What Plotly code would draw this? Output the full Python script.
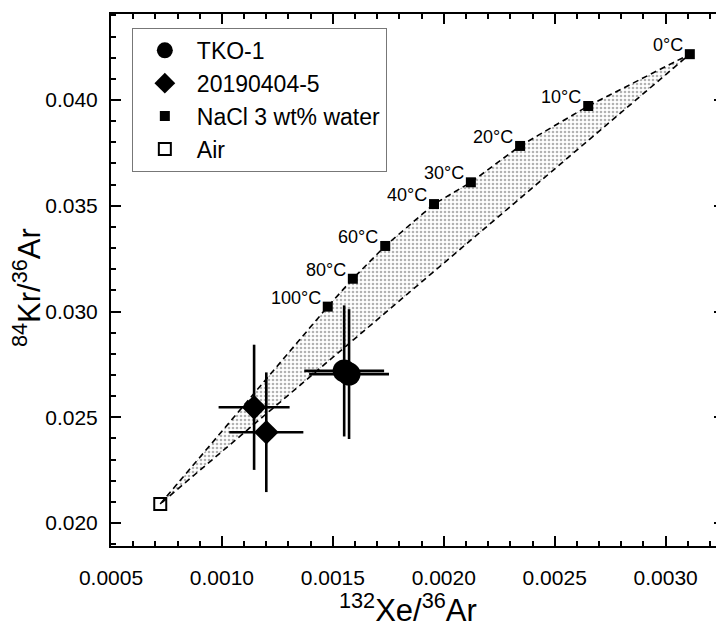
import plotly.graph_objects as go

# ---- data ----
nacl_temp_labels = ["0°C", "10°C", "20°C", "30°C", "40°C", "60°C", "80°C", "100°C"]
nacl_xe = [0.003109, 0.002651, 0.002344, 0.002122, 0.001956, 0.001736, 0.001590, 0.001477]
nacl_kr = [0.04217, 0.03972, 0.03783, 0.03611, 0.03508, 0.03310, 0.03155, 0.03023]

air_xe = [0.000722]
air_kr = [0.02090]

tko_xe = [0.001551, 0.001573]
tko_kr = [0.02719, 0.02704]
tko_xe_err = [0.00018, 0.00018]
tko_kr_err = [0.00310, 0.00307]

s2019_xe = [0.001145, 0.001200]
s2019_kr = [0.02547, 0.02429]
s2019_xe_err = [0.00016, 0.000167]
s2019_kr_err = [0.00296, 0.00283]

x_ticks = [0.0005, 0.0010, 0.0015, 0.0020, 0.0025, 0.0030]
y_ticks = [0.020, 0.025, 0.030, 0.035, 0.040]

FONT = "Liberation Sans, Arial, sans-serif"
DASH = "6px,4px"

fig = go.Figure()

# shaded mixing region: Air -> 100°C ... 0°C -> Air
poly_x = air_xe + nacl_xe[::-1] + air_xe
poly_y = air_kr + nacl_kr[::-1] + air_kr
fig.add_trace(go.Scatter(
    x=poly_x, y=poly_y, mode="lines", fill="toself",
    fillcolor="rgba(0,0,0,0)",
    fillpattern=dict(shape=".", fgcolor="#666666", bgcolor="white", size=4, solidity=0.33),
    line=dict(color="black", width=1.6, dash=DASH),
    showlegend=False, hoverinfo="skip"))

fig.add_trace(go.Scatter(
    x=tko_xe, y=tko_kr, mode="markers", name="TKO-1",
    marker=dict(symbol="circle", size=23, color="black"),
    error_x=dict(type="data", array=tko_xe_err, thickness=2.6, width=0, color="black"),
    error_y=dict(type="data", array=tko_kr_err, thickness=2.6, width=0, color="black")))

fig.add_trace(go.Scatter(
    x=s2019_xe, y=s2019_kr, mode="markers", name="20190404-5",
    marker=dict(symbol="diamond", size=19, color="black"),
    error_x=dict(type="data", array=s2019_xe_err, thickness=2.6, width=0, color="black"),
    error_y=dict(type="data", array=s2019_kr_err, thickness=2.6, width=0, color="black")))

fig.add_trace(go.Scatter(
    x=nacl_xe, y=nacl_kr, mode="markers", name="NaCl 3 wt% water",
    marker=dict(symbol="square", size=10, color="black")))

fig.add_trace(go.Scatter(
    x=air_xe, y=air_kr, mode="markers", name="Air",
    marker=dict(symbol="square-open", size=12, color="black", line=dict(width=2, color="black"))))

for lab, xv, yv in zip(nacl_temp_labels, nacl_xe, nacl_kr):
    fig.add_annotation(x=xv, y=yv, text=lab, showarrow=False,
                       xanchor="right", yanchor="middle", xshift=-5, yshift=9,
                       font=dict(family=FONT, size=18, color="black"))

# page body has an 8px margin: figure is sized/offset to compensate
fig.update_layout(
    width=716, height=622,
    margin=dict(l=103, r=0, t=6, b=84),
    paper_bgcolor="white", plot_bgcolor="white",
    font=dict(family=FONT, color="black"),
    legend=dict(x=0.034, y=0.974, xanchor="left", yanchor="top",
                bordercolor="#777777", borderwidth=1, bgcolor="white",
                font=dict(family=FONT, size=23), itemsizing="trace",
                itemwidth=54, tracegroupgap=0),
)

fig.update_xaxes(
    range=[0.0005, 0.003263], tickvals=x_ticks, tickformat=".4f",
    ticks="inside", ticklen=10, tickwidth=1.8, tickcolor="black",
    minor=dict(ticks="inside", ticklen=5, tickwidth=1.5, dtick=0.0001, tick0=0.0005, tickcolor="black"),
    showline=True, linecolor="black", linewidth=2, mirror="ticks",
    showgrid=False, zeroline=False, automargin=False,
    tickfont=dict(family=FONT, size=21), ticklabelstandoff=12)

fig.update_yaxes(
    range=[0.01891, 0.04407], tickvals=y_ticks, tickformat=".3f",
    ticks="inside", ticklen=10, tickwidth=1.8, tickcolor="black",
    minor=dict(ticks="inside", ticklen=5, tickwidth=1.5, dtick=0.001, tick0=0.020, tickcolor="black"),
    showline=True, linecolor="black", linewidth=2, mirror="ticks",
    showgrid=False, zeroline=False, automargin=False,
    tickfont=dict(family=FONT, size=21), ticklabelstandoff=7)

# axis titles
fig.add_annotation(xref="paper", yref="paper", x=0.5, xshift=-10, y=0, yshift=-62,
                   xanchor="center", yanchor="middle", showarrow=False,
                   text="<sup>132</sup>Xe/<sup>36</sup>Ar",
                   font=dict(family=FONT, size=31, color="black"))
fig.add_annotation(xref="paper", yref="paper", x=0, xshift=-84, y=0.5, yshift=-8,
                   xanchor="center", yanchor="middle", showarrow=False, textangle=-90,
                   text="<sup>84</sup>Kr/<sup>36</sup>Ar",
                   font=dict(family=FONT, size=31, color="black"))

fig.write_html("out.html")
